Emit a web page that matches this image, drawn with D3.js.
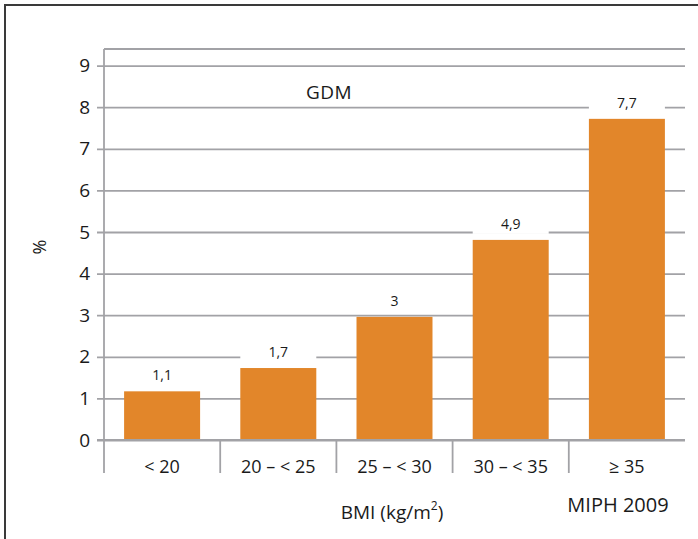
<!DOCTYPE html>
<html>
<head>
<meta charset="utf-8">
<script src="https://cdn.jsdelivr.net/npm/d3@7"></script>
<style>
  html, body { margin: 0; padding: 0; background: #fff; }
  svg { display: block; }
  text { font-family: "Open Sans", "Noto Sans", sans-serif; fill: #1a1a1a; }
</style>
</head>
<body>
<svg id="chart" width="698" height="539"></svg>
<script>
// ---- data ----
const categories = ["< 20", "20 – < 25", "25 – < 30", "30 – < 35", "≥ 35"];
const values = [1.17, 1.73, 2.96, 4.81, 7.72];
const valueLabels = ["1,1", "1,7", "3", "4,9", "7,7"];
const yTicks = [0, 1, 2, 3, 4, 5, 6, 7, 8, 9];
const seriesName = "GDM";
const yTitle = "%";
const xTitle = "BMI (kg/m";
const source = "MIPH 2009";

// ---- layout ----
const svg = d3.select("#chart");
const plotLeft = 104, plotRight = 685, plotTop = 49, zeroY = 440, axisBottom = 473;
const orange = "#e2862a";
const gridColor = "#a2a2a6";
const gridW = 1.8;

const x = d3.scaleBand().domain(categories).range([plotLeft, plotRight]).paddingInner(0.346).paddingOuter(0.173);
const y = d3.scaleLinear().domain([0, 9]).range([zeroY, zeroY - 9 * 41.6]);

// frame
svg.append("path").attr("d", `M5,539 V5 H698`).attr("fill", "none").attr("stroke", "#3a3a3a").attr("stroke-width", 2);

// plot top border
svg.append("line").attr("x1", plotLeft).attr("x2", plotRight).attr("y1", plotTop).attr("y2", plotTop)
  .attr("stroke", gridColor).attr("stroke-width", gridW);

// y axis with grid
const yAxis = d3.axisLeft(y).tickValues(yTicks).tickSize(-(plotRight - plotLeft)).tickPadding(14).tickFormat(d3.format("d"));
const gy = svg.append("g").attr("transform", `translate(${plotLeft},0)`).call(yAxis);
gy.select(".domain").remove();
gy.selectAll(".tick line").attr("stroke", gridColor).attr("stroke-width", gridW).attr("x1", -7);
gy.selectAll(".tick text").attr("font-size", 19).attr("font-family", "Open Sans").attr("fill", "#1a1a1a").attr("x", -14);

// left axis line
svg.append("line").attr("x1", plotLeft).attr("x2", plotLeft).attr("y1", plotTop).attr("y2", axisBottom)
  .attr("stroke", gridColor).attr("stroke-width", gridW);

// category dividers
const step = x.step();
categories.slice(1).forEach(c => {
  const xx = x(c) - step * x.paddingInner() / 2;
  svg.append("line").attr("x1", xx).attr("x2", xx).attr("y1", zeroY).attr("y2", axisBottom)
    .attr("stroke", gridColor).attr("stroke-width", gridW);
});

// bars
svg.selectAll("rect.bar").data(values).join("rect").attr("class", "bar")
  .attr("x", (d, i) => x(categories[i]))
  .attr("width", x.bandwidth())
  .attr("y", d => y(d))
  .attr("height", d => zeroY - y(d))
  .attr("fill", orange);

// x axis baseline (drawn over bars)
svg.append("line").attr("x1", plotLeft - 7).attr("x2", plotRight).attr("y1", zeroY).attr("y2", zeroY)
  .attr("stroke", gridColor).attr("stroke-width", gridW);

// value labels with white background
const lab = svg.selectAll("g.vlab").data(values).join("g").attr("class", "vlab");
lab.append("rect")
  .attr("x", (d, i) => x(categories[i]))
  .attr("width", x.bandwidth())
  .attr("y", d => y(d) - 26)
  .attr("height", 20)
  .attr("fill", "#fff");
lab.append("text")
  .attr("x", (d, i) => x(categories[i]) + x.bandwidth() / 2)
  .attr("y", d => y(d) - 16)
  .attr("dy", "0.35em")
  .attr("text-anchor", "middle")
  .attr("font-size", 14)
  .text((d, i) => valueLabels[i]);

// category labels
svg.selectAll("text.cat").data(categories).join("text").attr("class", "cat")
  .attr("x", d => x(d) + x.bandwidth() / 2)
  .attr("y", 467)
  .attr("dy", "0.35em")
  .attr("text-anchor", "middle")
  .attr("font-size", 18)
  .text(d => d);

// series name
svg.append("text").attr("x", 329).attr("y", 92).attr("dy", "0.35em").attr("text-anchor", "middle")
  .attr("font-size", 19).attr("letter-spacing", 0.5).text(seriesName);

// y title
svg.append("text").attr("transform", "translate(40,247) rotate(-90)").attr("dy", "0.35em")
  .attr("text-anchor", "middle").attr("font-size", 18).text(yTitle);

// x title
const xt = svg.append("text").attr("x", 392).attr("y", 512).attr("dy", "0.35em").attr("text-anchor", "middle")
  .attr("font-size", 19);
xt.append("tspan").text(xTitle);
xt.append("tspan").attr("font-size", 12).attr("dy", "-0.7em").text("2");
xt.append("tspan").attr("dy", "0.45em").text(")");

// source
svg.append("text").attr("x", 618).attr("y", 504.5).attr("dy", "0.35em").attr("text-anchor", "middle")
  .attr("font-size", 20).text(source);
</script>
</body>
</html>
